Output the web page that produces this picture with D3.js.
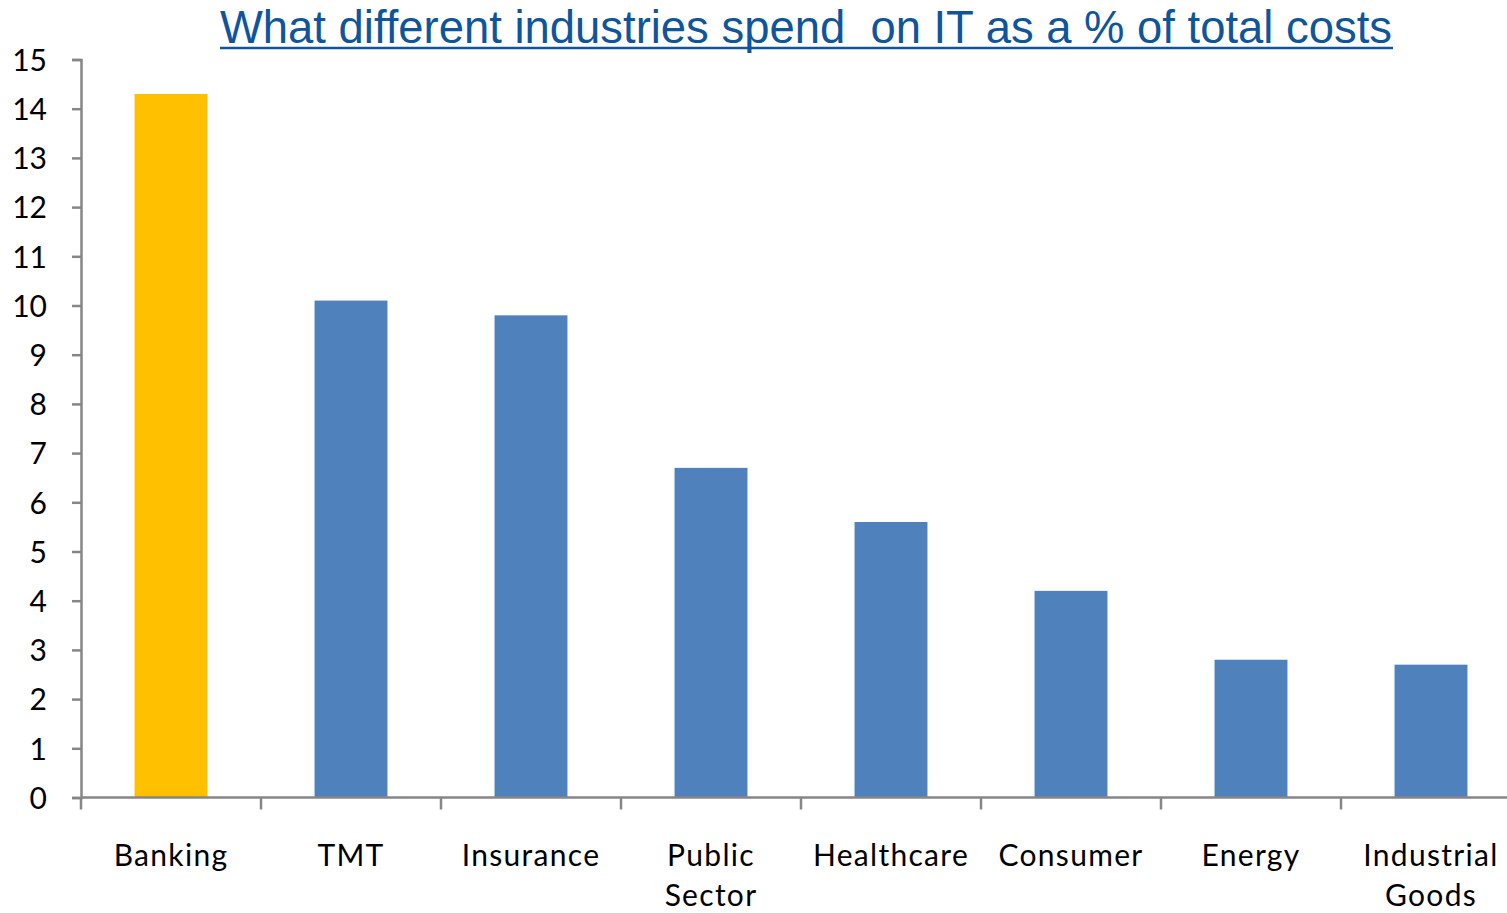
<!DOCTYPE html>
<html>
<head>
<meta charset="utf-8">
<script src="https://cdn.jsdelivr.net/npm/d3@7"></script>
<style>
  html, body { margin: 0; padding: 0; background: #fff; overflow: hidden; }
  svg { display: block; }
</style>
</head>
<body>
<svg id="chart" width="1507" height="913"></svg>
<script>
// IT spend as a share of total costs, by industry
const categories = ["Banking", "TMT", "Insurance", "Public Sector", "Healthcare", "Consumer", "Energy", "Industrial Goods"];
const labelLines = [["Banking"], ["TMT"], ["Insurance"], ["Public", "Sector"], ["Healthcare"], ["Consumer"], ["Energy"], ["Industrial", "Goods"]];
const values = [14.3, 10.1, 9.8, 6.7, 5.6, 4.2, 2.8, 2.7];
const yTicks = [0, 1, 2, 3, 4, 5, 6, 7, 8, 9, 10, 11, 12, 13, 14, 15];
const highlight = "Banking";
const title = "What different industries spend  on IT as a % of total costs";

const svg = d3.select("#chart");
const axisColor = "#868686";
const labelFont = "Lato, 'Open Sans', sans-serif";

const x = d3.scaleBand()
  .domain(categories)
  .range([81, 1521])
  .paddingInner(0.595)
  .paddingOuter(0.2975);

const y = d3.scaleLinear()
  .domain([0, 15])
  .range([797.5, 59.5]);

// Title
svg.append("text")
  .attr("x", 220)
  .attr("y", 43)
  .attr("fill", "#0F559C")
  .attr("font-family", "'Liberation Sans', Arial, sans-serif")
  .attr("font-size", 46)
  .attr("textLength", 1172)
  .attr("lengthAdjust", "spacingAndGlyphs")
  .style("white-space", "pre")
  .text(title);
svg.append("line")
  .attr("x1", 220).attr("x2", 1393)
  .attr("y1", 48).attr("y2", 48)
  .attr("stroke", "#0F559C")
  .attr("stroke-width", 2.5);

// Bars
svg.append("g")
  .selectAll("rect")
  .data(categories)
  .join("rect")
  .attr("x", d => x(d))
  .attr("width", x.bandwidth())
  .attr("y", (d, i) => y(values[i]))
  .attr("height", (d, i) => y(0) - y(values[i]))
  .attr("fill", d => d === highlight ? "#FFC000" : "#4F81BD");

// Y axis
const yAxis = svg.append("g")
  .attr("transform", "translate(81,0)")
  .call(d3.axisLeft(y).tickValues(yTicks).tickSize(9).tickPadding(25).tickSizeOuter(9));
yAxis.select(".domain").attr("stroke", axisColor).attr("stroke-width", 2.5);
yAxis.selectAll(".tick line").attr("stroke", axisColor).attr("stroke-width", 2.5);
yAxis.selectAll(".tick text")
  .attr("fill", "#000")
  .attr("font-family", labelFont)
  .attr("font-size", 30)
  .attr("dy", "0.36em");

// X axis line and category dividers
const xAxis = svg.append("g");
xAxis.append("line")
  .attr("x1", 81).attr("x2", 1507)
  .attr("y1", y(0)).attr("y2", y(0))
  .attr("stroke", axisColor)
  .attr("stroke-width", 2.5);
const step = x.step();
xAxis.selectAll("line.div")
  .data(categories)
  .join("line")
  .attr("class", "div")
  .attr("x1", d => x(d) - x.paddingOuter() * step)
  .attr("x2", d => x(d) - x.paddingOuter() * step)
  .attr("y1", y(0))
  .attr("y2", y(0) + 12)
  .attr("stroke", axisColor)
  .attr("stroke-width", 2.5);

// Category labels
const lbl = xAxis.selectAll("text.cat")
  .data(categories)
  .join("text")
  .attr("class", "cat")
  .attr("text-anchor", "middle")
  .attr("font-family", labelFont)
  .attr("font-size", 30)
  .attr("letter-spacing", 1.3)
  .attr("fill", "#000")
  .attr("transform", d => `translate(${x(d) + x.bandwidth() / 2},866)`);
lbl.selectAll("tspan")
  .data((d, i) => labelLines[i])
  .join("tspan")
  .attr("x", 0)
  .attr("dy", (d, i) => i === 0 ? 0 : 40)
  .text(d => d);
</script>
</body>
</html>
